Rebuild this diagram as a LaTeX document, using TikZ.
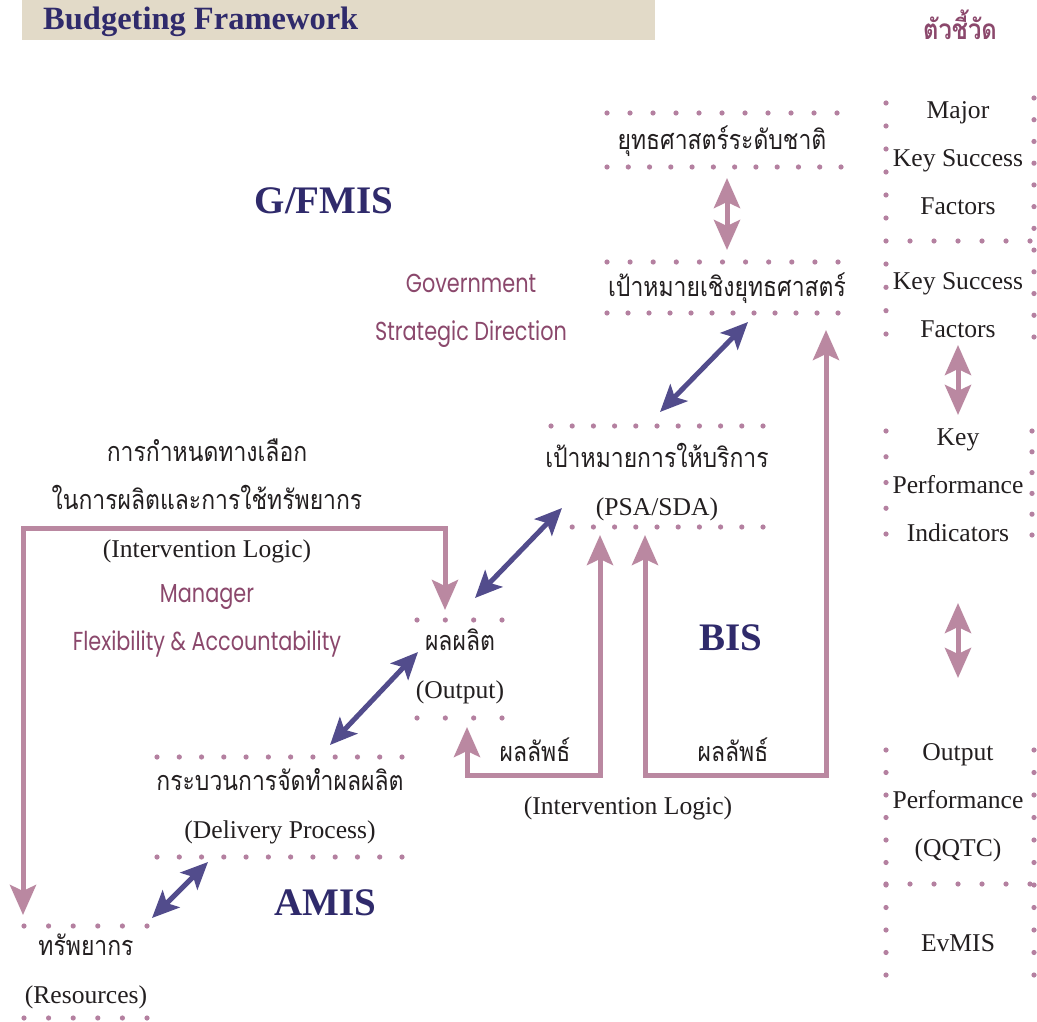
\documentclass[tikz,border=0pt]{standalone}
\usepackage{fontspec}
\setmainfont{Liberation Serif}
\newfontfamily\thai[Script=Thai,FakeStretch=0.85]{Loma}
\newfontfamily\geo[FakeStretch=0.8]{Poppins}
\usetikzlibrary{arrows.meta}

\definecolor{navy}{RGB}{47,42,107}
\definecolor{mauve}{RGB}{186,136,161}
\definecolor{dotc}{RGB}{180,128,160}
\definecolor{plum}{RGB}{139,72,108}
\definecolor{ink}{RGB}{35,31,32}
\definecolor{arrblue}{RGB}{82,76,140}
\definecolor{beige}{RGB}{226,218,200}

% Thai text inside mixed boxes
\newcommand\thx[1]{{\thai\fontsize{27}{48}\selectfont #1}}
% a row / column of round dots: start, end, fixed coordinate, count
\newcommand\dotrow[4]{\foreach \k in {1,...,#4}{\fill[dotc] ({#1+(\k-1)*(#2-#1)/(#4-1)},#3) circle[radius=2.6pt];}}
\newcommand\dotcol[4]{\foreach \k in {1,...,#4}{\fill[dotc] (#3,{#1+(\k-1)*(#2-#1)/(#4-1)}) circle[radius=2.6pt];}}

\begin{document}
\begin{tikzpicture}[x=1pt,y=-1pt,
  body/.style={font=\fontsize{25.6}{48}\selectfont, text=ink, align=center, inner sep=0pt},
  sys/.style={font=\bfseries\fontsize{39}{40}\selectfont, text=navy, inner sep=0pt},
  note/.style={font=\geo\fontsize{26}{48}\selectfont, text=plum, align=center, inner sep=0pt},
  mtip/.tip={Stealth[length=30pt,width=26pt,inset=6pt]},
  btip/.tip={Stealth[length=27pt,width=24pt,inset=6pt]},
  flow/.style={draw=mauve, line width=5pt, line join=miter, mtip-mtip},
  link/.style={draw=arrblue, line width=5pt, btip-btip}]

\useasboundingbox (0,0) rectangle (1037,1022);
\fill[white] (0,0) rectangle (1037,1022);

% heading bar
\fill[beige] (22,0) rectangle (655,40);
\node[anchor=base west, font=\bfseries\fontsize{32.5}{34}\selectfont, text=navy, inner sep=0pt] (title) at (43,30) {Budgeting Framework};
\node[font=\thai\bfseries\fontsize{28}{30}\selectfont, text=plum, inner sep=0pt] (ind) at (960,25) {ตัวชี้วัด};

% system labels
\node[sys] (gfmis) at (324,201) {G/FMIS};
\node[sys] (bis) at (731,638) {BIS};
\node[sys] (amis) at (325,903) {AMIS};

% direction notes
\node[note] (gov) at (471,311) {Government\\Strategic Direction};
\node[note] (mgr) at (207,621) {Manager\\Flexibility \& Accountability};

% chain of boxes
\node[body] (nat) at (722,141) {\thx{ยุทธศาสตร์ระดับชาติ}};
\node[body] (strat) at (727,288) {\thx{เป้าหมายเชิงยุทธศาสตร์}};
\node[body] (psa) at (657,482) {\thx{เป้าหมายการให้บริการ}\\(PSA/SDA)};
\node[body] (out) at (460,666) {\thx{ผลผลิต}\\(Output)};
\node[body] (proc) at (280,806) {\thx{กระบวนการจัดทำผลผลิต}\\(Delivery Process)};
\node[body] (res) at (86,971) {\thx{ทรัพยากร}\\(Resources)};
\node[body] (logic) at (207,501) {\thx{การกำหนดทางเลือก}\\\thx{ในการผลิตและการใช้ทรัพยากร}\\(Intervention Logic)};
\node[body] (r1) at (535,750) {\thx{ผลลัพธ์}};
\node[body] (r2) at (733,750) {\thx{ผลลัพธ์}};
\node[body] (il) at (628,808) {(Intervention Logic)};

% indicator column
\node[body] (mksf) at (958,158) {Major\\Key Success\\Factors};
\node[body] (ksf) at (958,305) {Key Success\\Factors};
\node[body] (kpi) at (958,485) {Key\\Performance\\Indicators};
\node[body] (op) at (958,803) {Output\\Performance\\(QQTC)};
\node[body] (ev) at (958,943) {EvMIS};

% dotted rules of the boxes
\dotrow{607}{837}{113}{11}
\dotrow{607}{841}{167}{12}
\dotrow{607}{838}{262}{11}
\dotrow{607}{838}{313}{12}
\dotrow{551}{763}{426}{11}
\dotrow{551}{763}{527}{11}
\dotrow{417}{502}{620}{4}
\dotrow{417}{502}{718}{4}
\dotrow{157}{402}{757}{12}
\dotrow{157}{402}{857}{12}
\dotrow{24}{147}{926}{6}
\dotrow{24}{147}{1018}{6}
% dotted frames of the indicator column
\dotcol{103}{218}{886}{6}
\dotrow{886}{1030}{241}{7}
\dotcol{264}{334}{886}{4}
\dotcol{98}{337}{1034}{12}
\dotcol{431}{534}{886}{5}
\dotcol{431}{535}{1032}{6}
\dotcol{750}{975}{886}{11}
\dotcol{750}{975}{1034}{11}
\dotrow{886}{1030}{884}{7}

% arrow end points
\coordinate (natS) at (727,178);
\coordinate (stratN) at (727,250);
\coordinate (stratS) at (748,322);
\coordinate (psaN) at (660,412);
\coordinate (psaSW) at (562,508);
\coordinate (outNE) at (475,598);
\coordinate (outSW) at (418,652);
\coordinate (procNE) at (330,745);
\coordinate (procSW) at (208,862);
\coordinate (resNE) at (152,918);
\coordinate (resN) at (23,915);
\coordinate (outN) at (445,610);
\coordinate (outS) at (467,727);
\coordinate (psaS1) at (600,535);
\coordinate (psaS2) at (645,535);
\coordinate (stratSE) at (826,330);
\coordinate (ksfS) at (958,345);
\coordinate (kpiN) at (958,415);
\coordinate (kpiS) at (958,603);
\coordinate (opN) at (958,678);

% mauve flows
\draw[flow] (natS) -- (stratN);
\draw[flow] (resN) -- (23,528) -- (445,528) -- (outN);
\draw[flow] (psaS1) -- (600,775) -- (467,775) -- (outS);
\draw[flow] (psaS2) -- (645,775) -- (826,775) -- (stratSE);
\draw[flow] (ksfS) -- (kpiN);
\draw[flow] (kpiS) -- (opN);

% blue links
\draw[link] (stratS) -- (psaN);
\draw[link] (psaSW) -- (outNE);
\draw[link] (outSW) -- (procNE);
\draw[link] (procSW) -- (resNE);
\end{tikzpicture}
\end{document}
